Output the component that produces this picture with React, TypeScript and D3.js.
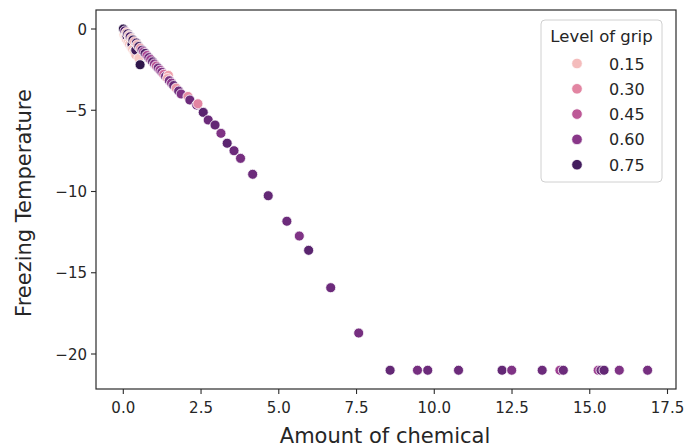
import React from "react";
import * as d3 from "d3";

const chemical = [
  0.0, 0.02, 0.05, 0.06, 0.1, 0.1, 0.12, 0.14, 0.15, 0.18, 0.2, 0.22, 0.25, 0.27, 0.28, 0.3, 0.31, 0.35, 0.36, 0.4, 0.4, 0.42, 0.45,
  0.5, 0.5, 0.55, 0.6, 0.65, 0.7, 0.76, 0.82, 0.88, 0.94, 1.0, 1.06, 1.12, 1.18, 1.24, 1.3, 1.36, 1.45, 1.42, 1.48, 1.55,
  1.62, 1.7, 1.78, 1.86, 2.08, 0.54, 2.14, 2.36, 2.4, 2.57, 2.73, 2.95, 3.14, 3.34, 3.56, 3.77, 4.16, 4.66, 5.26, 5.66, 5.96,
  6.67, 7.57, 8.58, 9.46, 9.79, 10.78, 12.18, 12.49, 13.47, 14.04, 14.15, 15.27, 15.36, 15.46, 15.95, 16.86,
];
const temperature = [
  0.0, -0.35, -0.12, -0.5, -0.22, -0.65, -0.45, -0.3, -0.8, -0.4, -0.95, -0.48, -1.1, -0.58, -0.95, -1.25, -0.68, -1.4, -0.78,
  -1.6, -1.3, -0.86, -0.97, -1.8, -1.08, -1.18, -1.3, -1.4, -1.5, -1.63, -1.76, -1.88, -2.02, -2.15, -2.28, -2.4, -2.53, -2.66,
  -2.79, -2.92, -2.85, -3.05, -3.18, -3.33, -3.48, -3.64, -3.82, -4.0, -4.15, -2.2, -4.37, -4.68, -4.6, -5.13, -5.6, -5.91,
  -6.42, -7.03, -7.49, -7.96, -8.94, -10.26, -11.83, -12.74, -13.62, -15.92, -18.71, -21, -21, -21, -21, -21, -21, -21, -21,
  -21, -21, -21, -21, -21, -21,
];
const grip = [
  0.8, 0.08, 0.7, 0.1, 0.15, 0.12, 0.75, 0.75, 0.1, 0.12, 0.14, 0.72, 0.1, 0.15, 0.78, 0.13, 0.78, 0.11, 0.2, 0.15, 0.76, 0.74,
  0.18, 0.12, 0.76, 0.25, 0.7, 0.55, 0.72, 0.5, 0.65, 0.55, 0.68, 0.6, 0.45, 0.65, 0.55, 0.62, 0.4, 0.66, 0.22, 0.2, 0.64,
  0.58, 0.68, 0.25, 0.66, 0.62, 0.28, 0.8, 0.66, 0.64, 0.3, 0.7, 0.66, 0.68, 0.62, 0.7, 0.66, 0.64, 0.66, 0.68, 0.66, 0.62,
  0.7, 0.66, 0.64, 0.68, 0.64, 0.66, 0.66, 0.68, 0.62, 0.66, 0.55, 0.66, 0.55, 0.66, 0.68, 0.62, 0.64,
];

const xTicks = [0, 2.5, 5, 7.5, 10, 12.5, 15, 17.5];
const yTicks = [0, -5, -10, -15, -20];
const legendValues = [0.15, 0.3, 0.45, 0.6, 0.75];

// seaborn "ch:" cubehelix palette (saturation lifted to match the reference rendering)
function cubehelix(t: number): string {
  const light = 0.85, dark = 0.15, start = 0, rot = 0.4, gamma = 1, hue = 0.8;
  const x = light + (dark - light) * Math.max(0, Math.min(1, t));
  const xg = Math.pow(x, gamma);
  const a = (hue * xg * (1 - xg)) / 2;
  const phi = 2 * Math.PI * (start / 3 + rot * x);
  const f = (p0: number, p1: number) => Math.max(0, Math.min(1, xg + a * (p0 * Math.cos(phi) + p1 * Math.sin(phi))));
  const r = f(-0.14861, 1.78277), g = f(-0.29227, -0.90649), b = f(1.97294, 0);
  const c = d3.hsl(d3.rgb(r * 255, g * 255, b * 255));
  c.s = Math.min(1, c.s * 1.6);
  c.l = Math.min(1, c.l * 1.04);
  return c.formatHex();
}

export default function App() {
  const W = 685, H = 447;
  const left = 96, right = 676, top = 10, bottom = 389;
  const x = d3.scaleLinear().domain([0, 17.5]).range([123.3, 667.5]);
  const y = d3.scaleLinear().domain([0, -20]).range([29, 354]);
  const [gmin, gmax] = d3.extent(grip) as [number, number];
  const norm = d3.scaleLinear().domain([gmin, gmax]).range([0, 1]);
  const color = (v: number) => cubehelix(norm(v));
  const font = "DejaVu Sans, sans-serif";
  const fmtX = d3.format(".1f");
  const fmtY = (v: number) => (v < 0 ? "\u2212" + Math.abs(v) : String(v));
  const lgX = 541, lgY = 20, lgW = 121, lgH = 162;

  return (
    <svg width={W} height={H} style={{ position: "absolute", left: 0, top: 0, background: "#fff" }} fontFamily={font}>
      <rect x={0} y={0} width={W} height={H} fill="#fff" />
      {chemical.map((c, i) => (
        <circle key={i} cx={x(c)} cy={y(temperature[i])} r={5} fill={color(grip[i])} stroke="#fff" strokeWidth={0.8} />
      ))}
      <rect x={left} y={top} width={right - left} height={bottom - top} fill="none" stroke="#2b2b2b" strokeWidth={1.2} />
      {xTicks.map((t) => (
        <g key={t}>
          <line x1={x(t)} x2={x(t)} y1={bottom} y2={bottom + 5} stroke="#2b2b2b" strokeWidth={1.1} />
          <text x={x(t)} y={bottom + 24} textAnchor="middle" fontSize={15} fill="#262626">{fmtX(t)}</text>
        </g>
      ))}
      {yTicks.map((t) => (
        <g key={t}>
          <line x1={left - 5} x2={left} y1={y(t)} y2={y(t)} stroke="#2b2b2b" strokeWidth={1.1} />
          <text x={left - 9} y={y(t) + 5.5} textAnchor="end" fontSize={15} fill="#262626">{fmtY(t)}</text>
        </g>
      ))}
      <text x={385} y={443} textAnchor="middle" fontSize={21} fill="#262626">Amount of chemical</text>
      <text transform={`translate(31,${203}) rotate(-90)`} textAnchor="middle" fontSize={21} fill="#262626">
        Freezing Temperature
      </text>
      <rect x={lgX} y={lgY} width={lgW} height={lgH} rx={4} fill="#fff" fillOpacity={0.8} stroke="#d0d0d0" strokeWidth={1} />
      <text x={lgX + lgW / 2} y={lgY + 22} textAnchor="middle" fontSize={16.5} fill="#262626">Level of grip</text>
      {legendValues.map((v, i) => (
        <g key={v}>
          <circle cx={577} cy={63.5 + 25.3 * i} r={5.3} fill={color(v)} stroke="#fff" strokeWidth={0.8} />
          <text x={609} y={63.5 + 25.3 * i + 6} fontSize={16} fill="#262626">{v.toFixed(2)}</text>
        </g>
      ))}
    </svg>
  );
}
